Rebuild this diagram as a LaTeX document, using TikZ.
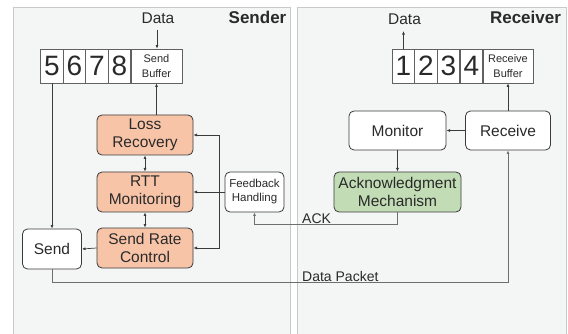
\documentclass[tikz,border=0pt]{standalone}
\usepackage{fontspec}
\setmainfont{Liberation Sans}
\usetikzlibrary{arrows.meta}
\definecolor{panelbg}{HTML}{F4F5F5}
\definecolor{panelln}{HTML}{C9C9C9}
\definecolor{salmon}{HTML}{F8C4A8}
\definecolor{mint}{HTML}{C2DDB5}
\definecolor{ink}{HTML}{2A2A2A}
\definecolor{wire}{HTML}{3A3A3A}
\definecolor{wire2}{HTML}{6E6E6E}
\tikzset{
  panel/.style={fill=panelbg, draw=panelln, line width=0.9pt},
  proc/.style={draw=wire, line width=0.8pt, rounded corners=5pt, inner sep=0pt, align=center, text=ink, font=\fontsize{15.5}{18.5}\selectfont},
  hot/.style={proc, fill=salmon, minimum width=96pt, minimum height=40pt},
  cell/.style={draw=wire!80, fill=white, line width=0.6pt, inner sep=0pt, minimum height=34pt, text=ink},
  digit/.style={cell, minimum width=22.5pt, font=\fontsize{28}{28}\selectfont},
  buflab/.style={cell, minimum width=51pt, align=center, font=\fontsize{11}{15}\selectfont},
  arr/.style={draw=wire, line width=0.7pt, -{Latex[length=3.6pt,width=3pt]}},
  darr/.style={draw=wire, line width=0.7pt, {Latex[length=3.6pt,width=3pt]}-{Latex[length=3.6pt,width=3pt]}},
  arrg/.style={draw=wire2, line width=0.8pt, -{Latex[length=3.6pt,width=3pt]}},
  lbl/.style={text=ink, inner sep=0pt, font=\fontsize{15.5}{16}\selectfont},
  ttl/.style={text=ink, inner sep=0pt, font=\bfseries\fontsize{17}{18}\selectfont},
  wlbl/.style={text=ink, inner sep=1pt, font=\fontsize{14}{15}\selectfont}
}
\begin{document}
\begin{tikzpicture}[x=1pt, y=-1pt]
\clip (0,0) rectangle (568,334);
\fill[white] (0,0) rectangle (568,334);
% panels
\draw[panel] (13,7) rectangle (290,345);
\draw[panel] (297,7) rectangle (566,345);
\node[ttl] (tS) at (257.5,17.5) {Sender};
\node[ttl] (tR) at (525.5,17.5) {Receiver};
% sender buffer
\node[digit] (c5) at (52,66) {5};
\node[digit] (c6) at (74.5,66) {6};
\node[digit] (c7) at (97,66) {7};
\node[digit] (c8) at (119.5,66) {8};
\node[buflab] (sbl) at (156.5,66) {Send\\Buffer};
\node[lbl] (dS) at (158,18.5) {Data};
% sender process
\node[hot] (loss) at (145,135) {Loss\\Recovery};
\node[hot] (rtt) at (145,192) {RTT\\Monitoring};
\node[hot] (src) at (145,248) {Send Rate\\Control};
\node[proc, fill=white, minimum width=59pt, minimum height=40pt] (send) at (52,249) {Send};
\node[proc, fill=white, minimum width=59pt, minimum height=40pt, font=\fontsize{11.5}{14}\selectfont] (fb) at (254.5,192) {Feedback\\Handling};
% receiver buffer
\node[digit] (c1) at (403.5,66) {1};
\node[digit] (c2) at (426,66) {2};
\node[digit] (c3) at (448.5,66) {3};
\node[digit] (c4) at (471.5,66) {4};
\node[buflab, minimum width=50pt] (rbl) at (508,66) {Receive\\Buffer};
\node[lbl] (dR) at (404.5,19.5) {Data};
% receiver process
\node[proc, fill=white, minimum width=97pt, minimum height=39pt] (mon) at (397.5,130.5) {Monitor};
\node[proc, fill=white, minimum width=85pt, minimum height=39pt] (recv) at (508,130.5) {Receive};
\node[proc, fill=mint, minimum width=127pt, minimum height=40pt] (ack) at (397.5,192) {Acknowledgment\\Mechanism};
% junction coordinates
\coordinate (fj) at (219,192);
\coordinate (ackc) at (254.5,224);
\coordinate (dpk) at (508,282);
\coordinate (dsTail) at (157,30);
\coordinate (drHead) at (403.5,31);
% sender connectors
\draw[arr] (dsTail) -- (sbl.north -| dsTail);
\draw[arr] (sbl.south |- loss.north) -- (sbl.south);
\draw[darr] (loss.south) -- (rtt.north);
\draw[darr] (rtt.south) -- (src.north);
\draw[arr] (fb.west) -- (rtt.east);
\draw[arr] (fj) |- (loss.east);
\draw[arr] (fj) |- (src.east);
\draw[arr] (src.west) -- (send.east);
\draw[arr] (c5.south) -- (send.north);
% receiver connectors
\draw[arr] (c1.north) -- (drHead);
\draw[arr] (recv.north) -- (rbl.south);
\draw[arr] (recv.west) -- (mon.east);
\draw[arr] (mon.south) -- (ack.north);
% cross-panel links
\draw[arrg] (ack.south) |- (ackc) -- (fb.south);
\draw[arrg] (send.south) |- (dpk) -- (recv.south);
\node[wlbl, anchor=south west] (lack) at (301,224.5) {ACK};
\node[wlbl, anchor=south west] (ldp) at (301,282.5) {Data Packet};
\end{tikzpicture}
\end{document}
